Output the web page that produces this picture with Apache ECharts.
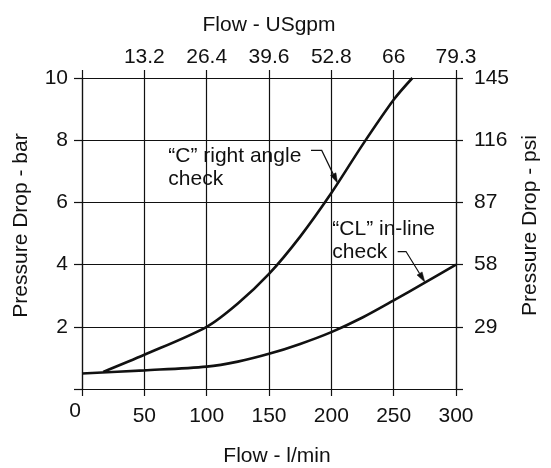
<!DOCTYPE html>
<html>
<head>
<meta charset="utf-8">
<script src="https://cdn.jsdelivr.net/npm/echarts@6/dist/echarts.min.js"></script>
<style>
html,body{margin:0;padding:0;background:#fff;}
#chart{width:551px;height:468px;}
</style>
</head>
<body>
<div id="chart"></div>
<script>
// ---- data ----
const cFlow = [17, 50, 100, 125, 150, 175, 200, 225, 250, 265];
const cDrop = [0.55, 1.1, 2.0, 2.75, 3.7, 4.9, 6.3, 7.85, 9.3, 10];
const clFlow = [0, 50, 100, 125, 150, 175, 200, 225, 250, 275, 300];
const clDrop = [0.5, 0.6, 0.72, 0.88, 1.13, 1.45, 1.83, 2.3, 2.85, 3.42, 4.0];
const gpmLabels = ['', '13.2', '26.4', '39.6', '52.8', '66', '79.3'];
const cNote = ['\u201CC\u201D right angle', 'check'];
const clNote = ['\u201CCL\u201D in-line', 'check'];
// annotation anchors in data units (flow l/min, bar)
const cNoteAt = [69.2, 7.48];
const cLeader = [[183.7, 7.67], [192.3, 7.67], [205, 6.62]];
const clNoteAt = [200.8, 5.14];
const clLeader = [[253.2, 4.42], [259.9, 4.42], [275, 3.44]];

const FONT = 'Liberation Sans, Arial, Helvetica, sans-serif';
const FS = 21;
const INK = '#111';
const lineStyle = {color: INK, width: 1.2};

const chart = echarts.init(document.getElementById('chart'), null, {renderer: 'canvas'});
const zip = (a, b) => a.map((v, i) => [v, b[i]]);

const option = {
  animation: false,
  backgroundColor: '#fff',
  textStyle: {fontFamily: FONT, color: INK},
  grid: {left: 82, right: 95, top: 78, bottom: 79, containLabel: false, outerBoundsMode: 'none'},
  xAxis: [{
    type: 'value', min: 0, max: 300, interval: 50, position: 'bottom',
    name: 'Flow - l/min', nameLocation: 'middle', nameGap: 57,
    nameTextStyle: {fontSize: FS, color: INK, fontFamily: FONT, padding: [0, 0, 0, 16]},
    axisLine: {show: true, onZero: false, lineStyle: lineStyle},
    axisTick: {show: true, inside: false, length: 7, lineStyle: lineStyle},
    splitLine: {show: true, lineStyle: lineStyle},
    axisLabel: {
      fontSize: FS, color: INK, fontFamily: FONT, margin: 17,
      formatter: v => v === 0 ? '{z|0}' : String(v),
      rich: {z: {fontSize: FS, color: INK, fontFamily: FONT, lineHeight: 11, padding: [0, 14, 0, 0]}}
    }
  }, {
    type: 'value', min: 0, max: 300, interval: 50, position: 'top',
    name: 'Flow - USgpm', nameLocation: 'middle', nameGap: 42,
    nameTextStyle: {fontSize: FS, color: INK, fontFamily: FONT},
    axisLine: {show: true, onZero: false, lineStyle: lineStyle},
    axisTick: {show: true, inside: false, length: 8, lineStyle: lineStyle},
    splitLine: {show: false},
    axisLabel: {fontSize: FS, color: INK, fontFamily: FONT, margin: 10,
      formatter: v => gpmLabels[Math.round(v / 50)] || ''}
  }],
  yAxis: [{
    type: 'value', min: 0, max: 10, interval: 2, position: 'left',
    name: 'Pressure Drop - bar', nameLocation: 'middle', nameGap: 50, nameRotate: 90,
    nameTextStyle: {fontSize: FS, color: INK, fontFamily: FONT, padding: [0, 0, 0, 16]},
    axisLine: {show: true, onZero: false, lineStyle: lineStyle},
    axisTick: {show: true, inside: false, length: 8, lineStyle: lineStyle},
    splitLine: {show: true, lineStyle: lineStyle},
    axisLabel: {fontSize: FS, color: INK, fontFamily: FONT, margin: 14,
      formatter: v => v === 0 ? '' : String(v)}
  }, {
    type: 'value', min: 0, max: 145, interval: 29, position: 'right',
    name: 'Pressure Drop - psi', nameLocation: 'middle', nameGap: 63, nameRotate: 90,
    nameTextStyle: {fontSize: FS, color: INK, fontFamily: FONT, padding: [0, 0, 0, 16]},
    axisLine: {show: true, onZero: false, lineStyle: lineStyle},
    axisTick: {show: true, inside: false, length: 7, lineStyle: lineStyle},
    splitLine: {show: false},
    axisLabel: {fontSize: FS, color: INK, fontFamily: FONT, margin: 18,
      formatter: v => v === 0 ? '' : String(v)}
  }],
  series: [{
    name: 'C right angle check', type: 'line', xAxisIndex: 0, yAxisIndex: 0,
    data: zip(cFlow, cDrop), showSymbol: false, smooth: 0.3,
    lineStyle: {color: INK, width: 2.6}
  }, {
    name: 'CL in-line check', type: 'line', xAxisIndex: 0, yAxisIndex: 0,
    data: zip(clFlow, clDrop), showSymbol: false, smooth: 0.3,
    lineStyle: {color: INK, width: 2.6}
  }]
};
chart.setOption(option);

function px(p) {
  return [chart.convertToPixel({xAxisIndex: 0}, p[0]), chart.convertToPixel({yAxisIndex: 0}, p[1])];
}
function note(lines, at, leader) {
  const a = px(at);
  const pts = leader.map(px);
  const tip = pts[pts.length - 1], prev = pts[pts.length - 2];
  const dx = tip[0] - prev[0], dy = tip[1] - prev[1];
  const len = Math.hypot(dx, dy), ux = dx / len, uy = dy / len;
  const L = 10, W = 3;
  const bx = tip[0] - ux * L, by = tip[1] - uy * L;
  return [{
    type: 'text', x: a[0], y: a[1] - 11.3, silent: true,
    style: {text: lines.join('\n'), font: FS + 'px ' + FONT, fill: INK, lineHeight: 22.6, verticalAlign: 'top', align: 'left'}
  }, {
    type: 'polyline', silent: true,
    shape: {points: pts.slice(0, -1).concat([[bx, by]])},
    style: {stroke: INK, lineWidth: 1.2, fill: null}
  }, {
    type: 'polygon', silent: true,
    shape: {points: [tip, [bx - uy * W, by + ux * W], [bx + uy * W, by - ux * W]]},
    style: {fill: INK, stroke: INK, lineWidth: 0.5}
  }];
}
chart.setOption({graphic: note(cNote, cNoteAt, cLeader).concat(note(clNote, clNoteAt, clLeader))});
</script>
</body>
</html>
